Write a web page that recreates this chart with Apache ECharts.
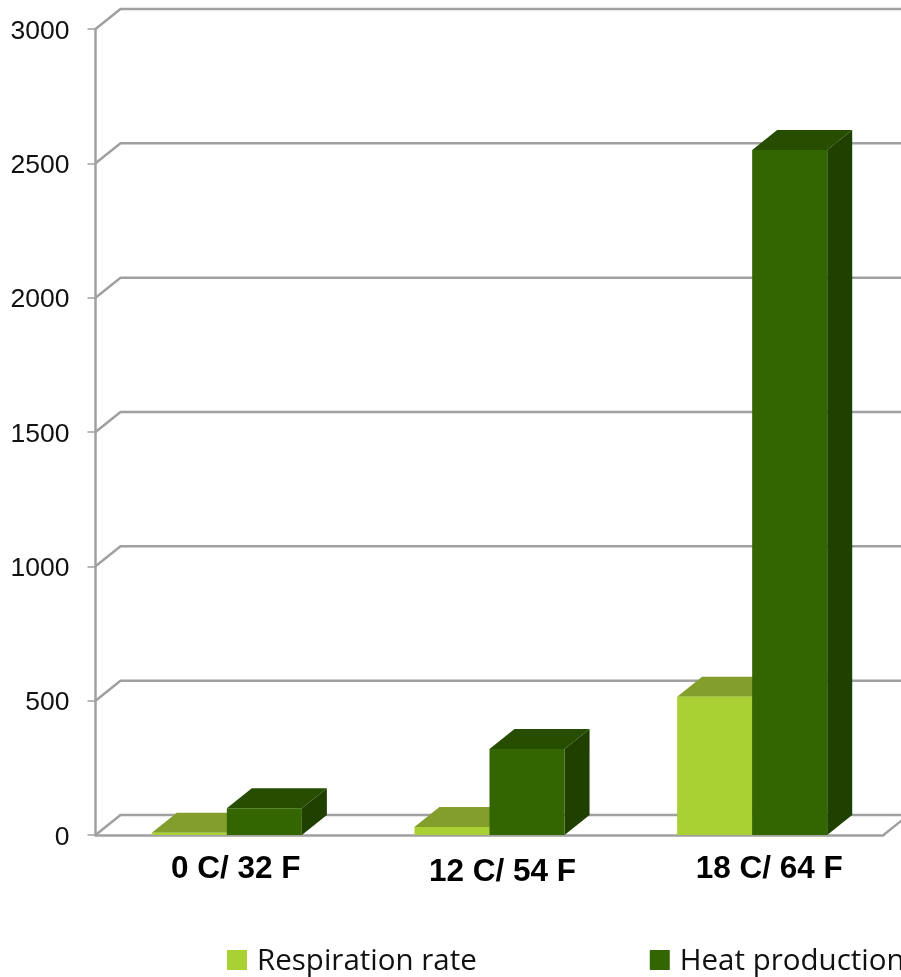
<!DOCTYPE html>
<html>
<head>
<meta charset="utf-8">
<style>html,body{margin:0;padding:0;background:#fff}#c{width:901px;height:977px}</style>
<script src="https://cdn.jsdelivr.net/npm/echarts@6/dist/echarts.min.js"></script>
</head>
<body>
<div id="c"></div>
<script>
var categories = ['0 C/ 32 F', '12 C/ 54 F', '18 C/ 64 F'];
var respirationRate = [8, 30, 515];
var heatProduction = [100, 320, 2550];
var yTicks = [0, 500, 1000, 1500, 2000, 2500, 3000];

var DX = 25, DY = -20, BAR_RATIO = 75 / 262.5;
var GRAY = '#a0a0a0';
var labelStyles = ['a', 'b', 'c'];

function poly(points, color, z2) {
  return { type: 'polygon', shape: { points: points }, style: { fill: color }, z2: z2 || 0 };
}

function barRenderer(slot, front, top, side) {
  return function (params, api) {
    var base = api.coord([api.value(0), 0]);
    var head = api.coord([api.value(0), api.value(1)]);
    var w = api.size([1, 0])[0] * BAR_RATIO;
    var x0 = base[0] + slot * w, x1 = x0 + w;
    var y0 = base[1], y1 = head[1];
    return {
      type: 'group',
      children: [
        poly([[x1, y0], [x1 + DX, y0 + DY], [x1 + DX, y1 + DY], [x1, y1]], side),
        poly([[x0, y1], [x0 + DX, y1 + DY], [x1 + DX, y1 + DY], [x1, y1]], top),
        poly([[x0, y0], [x1, y0], [x1, y1], [x0, y1]], front)
      ]
    };
  };
}

function wallRenderer(params, api) {
  var v = api.value(0);
  var cs = params.coordSys;
  var y = api.coord([0, v])[1];
  var left = cs.x, right = cs.x + cs.width;
  var ls = { stroke: GRAY, lineWidth: 2.5, fill: null };
  var children = [{
    type: 'polyline',
    shape: { points: [[left, y], [left + DX, y + DY], [right + DX, y + DY]] },
    style: ls
  }];
  if (v === 0) {
    children.push({
      type: 'line',
      shape: { x1: right, y1: y, x2: right + DX, y2: y + DY },
      style: { stroke: GRAY, lineWidth: 2.5 }
    });
  }
  return { type: 'group', children: children };
}

var chart = echarts.init(document.getElementById('c'), null, { renderer: 'canvas' });
var boldLabel = { fontFamily: 'Liberation Sans', fontWeight: 'bold', fontSize: 31.5, color: '#000' };
function richLabel(padding) {
  return Object.assign({ padding: padding }, boldLabel);
}
chart.setOption({
  animation: false,
  backgroundColor: '#ffffff',
  grid: { left: 95.5, top: 29, width: 788, height: 806, containLabel: false },
  legend: {
    left: 227, top: 947, width: 1200, padding: 0,
    itemWidth: 20, itemHeight: 20, itemGap: 173, icon: 'rect',
    data: ['Respiration rate', 'Heat production'],
    formatter: function (name) { return '{t|' + name + '}'; },
    textStyle: {
      rich: { t: { fontFamily: 'Open Sans', fontSize: 29.5, color: '#111111', padding: [4, 0, 0, 5] } }
    }
  },
  xAxis: {
    type: 'category',
    data: categories,
    axisTick: { show: false },
    axisLine: { lineStyle: { color: GRAY, width: 2.5 } },
    axisLabel: {
      margin: 18,
      interval: 0,
      formatter: function (v, i) { return '{' + labelStyles[i] + '|' + v + '}'; },
      rich: {
        a: richLabel([0, 0, 0, 18]),
        b: richLabel([3, 0, 0, 26]),
        c: richLabel([0, 0, 0, 34])
      }
    }
  },
  yAxis: {
    type: 'value',
    min: 0, max: 3000, interval: 500,
    splitLine: { show: false },
    axisLine: { show: true, lineStyle: { color: GRAY, width: 2.5 } },
    axisTick: { show: true, length: 8, lineStyle: { color: GRAY, width: 1.5 } },
    axisLabel: {
      margin: 26,
      formatter: function (v) { return '{n|' + v + '}'; },
      rich: { n: { fontFamily: 'Liberation Sans', fontSize: 26.5, color: '#111111', padding: [5, 0, 0, 0] } }
    }
  },
  series: [
    {
      type: 'custom', name: 'walls', silent: true, z: 1,
      data: yTicks.map(function (t) { return [t]; }),
      encode: { y: 0 },
      renderItem: wallRenderer
    },
    {
      type: 'custom', name: 'Respiration rate', z: 3,
      itemStyle: { color: '#a9d134' },
      data: respirationRate.map(function (v, i) { return [i, v]; }),
      encode: { x: 0, y: 1 },
      renderItem: barRenderer(-1, '#a9d134', '#839e2b', '#6d8a20')
    },
    {
      type: 'custom', name: 'Heat production', z: 4,
      itemStyle: { color: '#336600' },
      data: heatProduction.map(function (v, i) { return [i, v]; }),
      encode: { x: 0, y: 1 },
      renderItem: barRenderer(0, '#336600', '#264d00', '#204000')
    }
  ]
});
</script>
</body>
</html>
